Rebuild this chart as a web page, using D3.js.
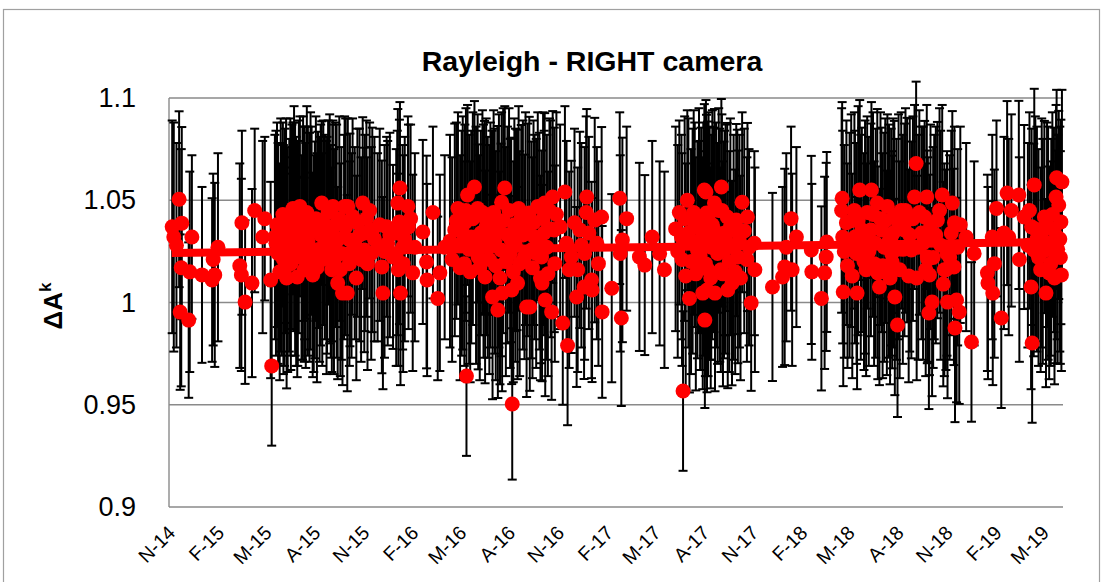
<!DOCTYPE html>
<html>
<head>
<meta charset="utf-8">
<script src="https://cdn.jsdelivr.net/npm/d3@7"></script>
<style>
  html, body { margin: 0; padding: 0; background: #fff; }
  svg { display: block; }
  text { font-family: "Liberation Sans", Arial, sans-serif; }
</style>
</head>
<body>
<svg id="chart" width="1102" height="582"></svg>
<script>
// Rayleigh calibration coefficient, RIGHT camera: one value per observation with its uncertainty
const obsDates = [
  "2014-11-07","2014-11-10","2014-11-15","2014-11-20","2014-11-22","2014-11-24","2014-11-25","2014-12-08","2014-12-10","2014-12-14",
  "2015-01-02","2015-01-21","2015-01-23","2015-01-26","2015-02-01","2015-03-14","2015-03-17","2015-03-18","2015-03-24","2015-04-06",
  "2015-04-11","2015-04-26","2015-04-30","2015-05-11","2015-05-13","2015-05-19","2015-05-25","2015-06-03","2015-06-06","2015-06-07",
  "2015-06-12","2015-06-15","2015-06-20","2015-06-22","2015-06-26","2015-06-30","2015-07-01","2015-07-05","2015-07-08","2015-07-13",
  "2015-07-14","2015-07-20","2015-07-27","2015-07-29","2015-08-02","2015-08-08","2015-08-11","2015-08-15","2015-08-16","2015-08-21",
  "2015-08-27","2015-09-03","2015-09-04","2015-09-05","2015-09-10","2015-09-14","2015-09-21","2015-09-23","2015-09-26","2015-09-27",
  "2015-10-02","2015-10-03","2015-10-06","2015-10-07","2015-10-16","2015-10-21","2015-10-31","2015-11-03","2015-11-04","2015-11-09",
  "2015-11-13","2015-11-18","2015-11-28","2015-12-06","2015-12-08","2015-12-15","2015-12-17","2015-12-27","2016-01-04","2016-01-05",
  "2016-01-06","2016-01-08","2016-01-09","2016-01-10","2016-01-14","2016-01-15","2016-01-24","2016-01-25","2016-02-02","2016-02-06",
  "2016-02-21","2016-02-28","2016-02-29","2016-03-11","2016-03-20","2016-03-24","2016-04-02","2016-04-21","2016-04-27","2016-05-04",
  "2016-05-09","2016-05-10","2016-05-13","2016-05-15","2016-05-18","2016-05-22","2016-05-28","2016-06-03","2016-06-04","2016-06-09",
  "2016-06-16","2016-06-17","2016-06-22","2016-06-30","2016-07-01","2016-07-05","2016-07-10","2016-07-11","2016-07-17","2016-07-18",
  "2016-07-19","2016-07-24","2016-07-29","2016-08-05","2016-08-06","2016-08-07","2016-08-11","2016-08-16","2016-08-17","2016-08-24",
  "2016-08-30","2016-09-03","2016-09-05","2016-09-08","2016-09-09","2016-09-12","2016-09-18","2016-09-24","2016-10-01","2016-10-02",
  "2016-10-06","2016-10-07","2016-10-08","2016-10-16","2016-10-20","2016-10-22","2016-10-25","2016-10-26","2016-11-10","2016-11-14",
  "2016-11-17","2016-11-19","2016-11-26","2016-12-02","2016-12-06","2016-12-08","2016-12-12","2016-12-20","2016-12-21","2016-12-24",
  "2016-12-25","2017-01-03","2017-01-04","2017-01-09","2017-01-13","2017-01-22","2017-01-23","2017-02-10","2017-02-25","2017-02-26",
  "2017-02-28","2017-03-02","2017-03-10","2017-04-03","2017-04-13","2017-04-27","2017-05-11","2017-05-20","2017-06-17","2017-06-21",
  "2017-06-22","2017-06-24","2017-07-02","2017-07-06","2017-07-12","2017-07-16","2017-07-21","2017-07-28","2017-07-30","2017-07-31",
  "2017-08-03","2017-08-04","2017-08-06","2017-08-07","2017-08-08","2017-08-09","2017-08-10","2017-08-13","2017-08-16","2017-08-21",
  "2017-08-22","2017-08-23","2017-08-28","2017-09-03","2017-09-04","2017-09-05","2017-09-09","2017-09-10","2017-09-15","2017-09-16",
  "2017-09-24","2017-10-02","2017-10-04","2017-10-05","2017-10-13","2017-10-22","2017-10-23","2017-10-30","2017-11-05","2017-11-06",
  "2017-12-09","2017-12-28","2018-01-01","2018-01-04","2018-01-13","2018-01-15","2018-01-23","2018-02-20","2018-02-21","2018-03-11",
  "2018-03-17","2018-03-20","2018-03-21","2018-04-18","2018-04-19","2018-04-20","2018-04-21","2018-04-27","2018-05-03","2018-05-12",
  "2018-05-13","2018-05-16","2018-05-17","2018-05-22","2018-05-26","2018-05-30","2018-06-05","2018-06-12","2018-06-13","2018-06-18",
  "2018-06-24","2018-06-25","2018-06-28","2018-07-02","2018-07-07","2018-07-12","2018-07-13","2018-07-20","2018-07-21","2018-07-22",
  "2018-07-26","2018-07-27","2018-08-01","2018-08-08","2018-08-14","2018-08-19","2018-08-27","2018-09-02","2018-09-05","2018-09-06",
  "2018-09-15","2018-09-21","2018-09-25","2018-09-26","2018-09-27","2018-09-29","2018-09-30","2018-10-05","2018-10-09","2018-10-15",
  "2018-10-24","2018-10-28","2018-10-31","2018-11-02","2018-11-03","2018-11-10","2018-11-12","2018-11-15","2018-11-16","2018-11-17",
  "2018-11-20","2018-11-22","2018-11-25","2018-12-08","2018-12-18","2018-12-23","2019-01-17","2019-01-18","2019-01-26","2019-01-27",
  "2019-01-30","2019-02-03","2019-02-12","2019-02-17","2019-02-23","2019-02-26","2019-03-03","2019-03-17","2019-03-18","2019-03-27",
  "2019-04-09","2019-04-10","2019-04-11","2019-04-14","2019-04-15","2019-04-20","2019-04-27","2019-05-04","2019-05-07","2019-05-13",
  "2019-05-16","2019-05-17","2019-05-22","2019-05-25","2019-05-26","2019-05-27","2019-05-28","2019-05-31","2019-06-04","2019-06-05",
  "2019-06-06",
  // observations lying inside the dense seasonal clusters
  "2015-05-21","2015-05-23","2015-05-28","2015-05-30","2015-06-01","2015-06-04","2015-06-09","2015-06-10","2015-06-17","2015-06-18",
  "2015-06-24","2015-06-28","2015-07-03","2015-07-10","2015-07-11","2015-07-16","2015-07-18","2015-07-23","2015-07-25","2015-07-31",
  "2015-08-04","2015-08-06","2015-08-13","2015-08-18","2015-08-24","2015-08-25","2015-08-30","2015-09-01","2015-09-07","2015-09-12",
  "2015-09-17","2015-09-19","2015-09-29","2015-10-10","2015-10-12","2015-10-19","2015-10-25","2015-10-28","2015-11-07","2015-11-16",
  "2015-11-22","2015-12-02","2015-12-11","2015-12-21","2016-01-02","2016-01-18","2016-01-29","2016-04-12","2016-04-16","2016-04-24",
  "2016-05-01","2016-05-06","2016-05-12","2016-05-20","2016-05-25","2016-05-31","2016-06-07","2016-06-12","2016-06-14","2016-06-19",
  "2016-06-25","2016-06-27","2016-07-03","2016-07-07","2016-07-13","2016-07-15","2016-07-21","2016-07-26","2016-08-01","2016-08-03",
  "2016-08-09","2016-08-13","2016-08-19","2016-08-21","2016-08-27","2016-09-01","2016-09-14","2016-09-16","2016-09-21","2016-09-27",
  "2016-09-29","2016-10-04","2016-10-11","2016-10-13","2016-10-18","2016-10-29","2016-11-05","2016-11-22","2016-12-15","2016-12-29",
  "2017-01-16","2017-06-10","2017-06-14","2017-06-27","2017-06-29","2017-07-04","2017-07-09","2017-07-14","2017-07-18","2017-07-24",
  "2017-07-26","2017-08-01","2017-08-05","2017-08-11","2017-08-15","2017-08-18","2017-08-25","2017-08-30","2017-09-01","2017-09-07",
  "2017-09-12","2017-09-19","2017-09-21","2017-09-27","2017-09-30","2017-10-08","2017-10-10","2017-10-17","2017-10-26","2018-04-23",
  "2018-04-29","2018-05-06","2018-05-08","2018-05-19","2018-05-24","2018-06-01","2018-06-03","2018-06-08","2018-06-16","2018-06-21",
  "2018-06-30","2018-07-04","2018-07-09","2018-07-16","2018-07-18","2018-07-24","2018-07-30","2018-08-03","2018-08-05","2018-08-11",
  "2018-08-16","2018-08-22","2018-08-24","2018-08-30","2018-09-09","2018-09-11","2018-09-18","2018-09-23","2018-10-02","2018-10-07",
  "2018-10-12","2018-10-19","2018-10-21","2018-10-26","2018-11-07","2018-11-27","2019-04-03","2019-04-06","2019-04-17","2019-04-23",
  "2019-04-29","2019-05-01","2019-05-09","2019-05-11","2019-05-19","2019-05-23","2019-05-29","2019-06-02","2019-06-03"
];
const deltaA = [
  1.037,1.032,1.028,1.0505,0.9953,1.017,1.0388,0.9914,1.015,1.032,
  1.0135,1.011,1.021,1.0135,1.027,1.018,1.0135,1.039,1.0002,1.0095,
  1.045,1.032,1.041,1.011,0.969,1.032,1.024,1.043,1.016,1.035,
  1.021,1.028,1.037,1.046,1.031,1.0125,1.024,1.047,1.022,1.016,
  1.034,1.030,1.040,1.0135,1.0257,1.0355,1.026,1.0486,1.021,1.032,
  1.044,1.016,1.034,1.047,1.038,1.0095,1.024,1.0046,1.032,1.047,
  1.0046,1.047,1.019,1.0306,1.029,1.039,1.0486,1.0257,1.034,1.019,
  1.045,1.0355,1.027,1.0174,1.0046,1.037,1.029,1.0223,1.034,1.0486,
  1.016,1.0394,1.056,1.0046,1.027,1.019,1.047,1.037,1.0145,1.027,
  1.0345,1.0198,1.011,1.044,1.002,1.0145,1.027,1.0355,1.046,1.029,
  1.019,1.039,0.964,1.0526,1.026,1.032,1.0565,1.046,1.0223,1.034,
  1.0418,1.0125,1.027,1.039,1.0027,1.030,1.0403,0.9963,1.0257,1.049,
  1.0046,1.056,1.033,1.0306,1.0061,0.9504,1.038,1.0355,1.0095,1.0418,
  1.0223,0.9978,1.0355,1.0438,0.9978,1.0257,1.032,1.047,1.0223,1.0095,
  1.034,1.0486,1.0012,1.045,0.9954,1.0516,1.0355,1.019,0.990,1.054,
  1.029,0.979,1.0223,1.039,1.0027,1.016,1.0355,1.0076,1.024,1.044,
  1.0516,1.011,1.0061,1.0403,1.029,1.0418,0.9954,1.007,1.051,1.024,
  0.9924,1.0306,1.041,1.0223,1.0183,1.032,1.024,1.016,1.044,1.032,
  1.021,0.9567,1.050,1.002,1.030,1.038,1.0257,1.0355,1.019,1.0046,
  1.055,0.9914,1.054,1.0438,1.0061,1.0355,1.016,1.029,1.027,1.0355,
  1.0486,1.0046,1.024,1.016,1.0565,1.045,1.0257,1.034,1.0418,1.0061,
  1.0095,1.0403,1.0345,1.0223,1.049,1.021,1.0418,0.9998,1.029,1.016,
  1.0076,1.0125,1.0174,1.027,1.041,1.016,1.032,1.0257,1.015,1.002,
  1.0145,1.0223,1.0296,1.045,1.051,1.032,1.0051,1.039,1.028,1.045,
  1.032,1.024,1.0046,1.055,1.0355,1.020,1.044,1.0355,1.055,1.019,
  1.0486,1.0145,1.0076,1.0355,1.027,1.0145,1.047,1.032,1.024,1.0198,
  1.0418,1.0027,0.989,1.045,1.0355,1.0403,1.0257,1.0516,1.068,1.012,
  1.034,1.0418,1.0516,1.0223,1.021,0.9949,1.0135,1.0002,1.032,1.0403,
  1.0526,1.016,1.016,1.024,1.0002,1.034,1.0486,1.0174,1.039,0.9875,
  1.0012,1.027,0.9954,1.032,0.9807,1.024,1.0145,1.0095,1.032,1.0046,
  1.019,1.046,0.9924,1.034,1.0535,1.032,1.045,1.0526,1.021,1.0418,
  1.0076,1.037,0.9802,1.0257,1.0575,1.031,1.016,1.0418,1.0046,1.0145,
  1.019,1.027,1.0355,1.0223,1.0516,1.061,1.032,1.0477,1.0394,1.0135,
  1.059,
  1.029,1.038,1.015,1.033,1.026,1.021,1.040,1.012,1.032,1.019,
  1.041,1.025,1.037,1.029,1.041,1.023,1.044,1.027,1.035,1.019,
  1.041,1.017,1.033,1.039,1.022,1.028,1.036,1.025,1.020,1.030,
  1.041,1.016,1.037,1.023,1.042,1.012,1.033,1.021,1.041,1.024,
  1.031,1.038,1.025,1.033,1.022,1.031,1.041,1.030,1.021,1.040,
  1.017,1.034,1.045,1.015,1.041,1.028,1.017,1.044,1.030,1.037,
  1.021,1.033,1.044,1.018,1.035,1.012,1.040,1.020,1.045,1.024,
  1.015,1.028,1.046,1.019,1.033,1.041,1.017,1.039,1.024,1.030,
  1.012,1.041,1.027,1.014,1.036,1.043,1.037,1.016,1.028,1.034,
  1.019,1.036,1.025,1.041,1.013,1.034,1.020,1.044,1.014,1.040,
  1.023,1.031,1.019,1.043,1.012,1.038,1.033,1.045,1.028,1.014,
  1.031,1.020,1.037,1.027,1.015,1.030,1.012,1.035,1.027,1.025,
  1.018,1.040,1.013,1.040,1.027,1.032,1.016,1.025,1.043,1.029,
  1.041,1.018,1.040,1.030,1.012,1.034,1.026,1.037,1.016,1.026,
  1.045,1.013,1.033,1.041,1.027,1.044,1.029,1.016,1.037,1.022,
  1.033,1.045,1.028,1.009,1.022,1.038,1.028,1.045,1.036,1.022,
  1.034,1.025,1.038,1.029,1.043,1.012,1.026,1.031,1.022
];
const deltaErr = [
  0.052,0.056,0.050,0.043,0.038,0.058,0.047,0.038,0.049,0.040,
  0.043,0.040,0.042,0.045,0.046,0.050,0.047,0.045,0.040,0.046,
  0.040,0.047,0.040,0.048,0.039,0.050,0.054,0.045,0.047,0.050,
  0.055,0.052,0.050,0.042,0.057,0.049,0.055,0.044,0.050,0.045,
  0.052,0.056,0.046,0.050,0.053,0.048,0.055,0.040,0.052,0.050,
  0.045,0.050,0.053,0.042,0.050,0.047,0.052,0.045,0.050,0.044,
  0.048,0.043,0.050,0.052,0.047,0.046,0.042,0.050,0.048,0.052,
  0.043,0.050,0.046,0.052,0.047,0.044,0.050,0.045,0.050,0.046,
  0.047,0.050,0.042,0.045,0.050,0.053,0.044,0.050,0.048,0.046,
  0.045,0.052,0.047,0.042,0.040,0.048,0.045,0.052,0.047,0.055,
  0.050,0.048,0.039,0.044,0.056,0.052,0.042,0.046,0.055,0.050,
  0.047,0.052,0.054,0.045,0.050,0.055,0.046,0.043,0.052,0.044,
  0.048,0.040,0.053,0.050,0.046,0.037,0.052,0.049,0.047,0.045,
  0.050,0.044,0.052,0.047,0.041,0.053,0.050,0.046,0.052,0.048,
  0.050,0.044,0.047,0.045,0.043,0.042,0.050,0.048,0.040,0.042,
  0.050,0.039,0.047,0.046,0.044,0.050,0.048,0.045,0.052,0.047,
  0.043,0.048,0.045,0.050,0.047,0.044,0.042,0.046,0.042,0.048,
  0.043,0.050,0.045,0.046,0.044,0.047,0.045,0.048,0.045,0.050,
  0.052,0.039,0.044,0.046,0.055,0.050,0.053,0.050,0.052,0.047,
  0.042,0.043,0.045,0.048,0.050,0.053,0.052,0.057,0.055,0.050,
  0.046,0.048,0.054,0.050,0.043,0.047,0.053,0.050,0.046,0.048,
  0.050,0.047,0.050,0.052,0.044,0.050,0.046,0.043,0.045,0.050,
  0.046,0.044,0.048,0.046,0.045,0.047,0.044,0.046,0.043,0.045,
  0.047,0.046,0.044,0.050,0.047,0.052,0.046,0.050,0.055,0.048,
  0.052,0.054,0.047,0.044,0.050,0.053,0.047,0.052,0.043,0.050,
  0.046,0.052,0.048,0.050,0.056,0.050,0.045,0.053,0.050,0.052,
  0.047,0.048,0.045,0.048,0.052,0.050,0.053,0.045,0.040,0.050,
  0.052,0.047,0.045,0.052,0.050,0.047,0.049,0.046,0.050,0.048,
  0.044,0.052,0.049,0.050,0.047,0.050,0.045,0.048,0.047,0.046,
  0.050,0.048,0.045,0.046,0.039,0.045,0.048,0.047,0.050,0.045,
  0.046,0.043,0.044,0.047,0.045,0.048,0.047,0.046,0.050,0.045,
  0.050,0.048,0.039,0.052,0.047,0.055,0.050,0.047,0.046,0.052,
  0.050,0.053,0.050,0.052,0.045,0.043,0.050,0.046,0.050,0.047,
  0.045,
  0.055,0.050,0.053,0.057,0.052,0.056,0.050,0.054,0.058,0.052,
  0.055,0.056,0.052,0.057,0.050,0.055,0.052,0.056,0.058,0.053,
  0.050,0.056,0.054,0.050,0.057,0.053,0.056,0.052,0.055,0.057,
  0.050,0.052,0.053,0.050,0.048,0.050,0.052,0.050,0.048,0.052,
  0.050,0.047,0.052,0.050,0.053,0.050,0.046,0.052,0.050,0.048,
  0.055,0.057,0.050,0.054,0.052,0.058,0.055,0.050,0.057,0.053,
  0.056,0.055,0.050,0.056,0.057,0.052,0.055,0.056,0.050,0.056,
  0.054,0.057,0.050,0.055,0.056,0.052,0.054,0.050,0.056,0.053,
  0.050,0.052,0.055,0.050,0.053,0.050,0.050,0.048,0.050,0.047,
  0.050,0.050,0.052,0.050,0.055,0.056,0.055,0.050,0.057,0.055,
  0.056,0.057,0.055,0.050,0.054,0.056,0.055,0.050,0.057,0.055,
  0.056,0.054,0.053,0.055,0.050,0.052,0.050,0.050,0.048,0.052,
  0.050,0.052,0.050,0.056,0.055,0.057,0.052,0.056,0.050,0.056,
  0.052,0.055,0.050,0.057,0.052,0.056,0.054,0.055,0.053,0.056,
  0.050,0.052,0.057,0.050,0.055,0.050,0.057,0.052,0.050,0.054,
  0.053,0.050,0.056,0.050,0.050,0.048,0.050,0.048,0.055,0.053,
  0.056,0.055,0.050,0.057,0.050,0.052,0.056,0.055,0.052
];

// Linear trend of the coefficient over the whole record
const trendDates = ["2014-11-06", "2019-06-06"];
const trendValues = [1.0242, 1.0296];

// Axis ticks
const yTicks = [0.9, 0.95, 1, 1.05, 1.1];
const yTickLabels = ["0.9", "0.95", "1", "1.05", "1.1"];
const xTickDates = [
  "2014-11-01","2015-02-01","2015-05-01","2015-08-01","2015-11-01","2016-02-01","2016-05-01",
  "2016-08-01","2016-11-01","2017-02-01","2017-05-01","2017-08-01","2017-11-01","2018-02-01",
  "2018-05-01","2018-08-01","2018-11-01","2019-02-01","2019-05-01"
];
const xTickLabels = [
  "N-14","F-15","M-15","A-15","N-15","F-16","M-16","A-16","N-16","F-17","M-17",
  "A-17","N-17","F-18","M-18","A-18","N-18","F-19","M-19"
];
const xDomain = ["2014-11-01", "2019-06-08"];

const parse = d3.timeParse("%Y-%m-%d");
const points = obsDates.map((d, i) => ({ date: parse(d), v: deltaA[i], e: deltaErr[i] }));

const svg = d3.select("#chart");
const plot = { left: 169, right: 1063, top: 98, bottom: 507 };

// Chart area frame
svg.append("rect")
  .attr("x", 3.5).attr("y", 9.5)
  .attr("width", 1096).attr("height", 620)
  .attr("fill", "none").attr("stroke", "#a0a0a0").attr("stroke-width", 1.2);

const x = d3.scaleTime().domain(xDomain.map(parse)).range([plot.left, plot.right]);
const y = d3.scaleLinear().domain([0.9, 1.1]).range([plot.bottom, plot.top]);

// Horizontal gridlines
svg.append("g").attr("class", "grid")
  .selectAll("line").data(yTicks).join("line")
  .attr("x1", plot.left).attr("x2", plot.right)
  .attr("y1", d => y(d)).attr("y2", d => y(d))
  .attr("stroke", "#8a8a8a").attr("stroke-width", 1.4);

// Value axis line and labels
svg.append("line")
  .attr("x1", plot.left).attr("x2", plot.left)
  .attr("y1", plot.top).attr("y2", plot.bottom)
  .attr("stroke", "#8a8a8a").attr("stroke-width", 1.4);

const yAxis = d3.axisLeft(y).tickValues(yTicks).tickSize(0).tickPadding(33)
  .tickFormat((d, i) => yTickLabels[i]);
const gy = svg.append("g").attr("transform", `translate(${plot.left},0)`).call(yAxis);
gy.select(".domain").remove();
gy.selectAll("text").attr("font-size", 27).attr("fill", "#000")
  .attr("font-family", "'Liberation Sans', Arial, sans-serif");

// Date axis labels, rotated
const xAxis = d3.axisBottom(x).tickValues(xTickDates.map(parse)).tickSize(0)
  .tickFormat((d, i) => xTickLabels[i]);
const gx = svg.append("g").attr("transform", `translate(0,${plot.bottom})`).call(xAxis);
gx.select(".domain").remove();
gx.selectAll("text")
  .attr("font-size", 19.5).attr("fill", "#000")
  .attr("font-family", "'Liberation Sans', Arial, sans-serif")
  .attr("text-anchor", "end")
  .attr("dy", null).attr("y", null)
  .attr("transform", "translate(7,27) rotate(-45)");

// Error bars
const cap = 4.5;
const bars = svg.append("g").attr("stroke", "#000").attr("stroke-width", 2)
  .selectAll("g").data(points).join("g");
bars.append("line")
  .attr("x1", d => x(d.date)).attr("x2", d => x(d.date))
  .attr("y1", d => y(d.v - d.e)).attr("y2", d => y(d.v + d.e));
bars.append("line")
  .attr("x1", d => x(d.date) - cap).attr("x2", d => x(d.date) + cap)
  .attr("y1", d => y(d.v + d.e)).attr("y2", d => y(d.v + d.e));
bars.append("line")
  .attr("x1", d => x(d.date) - cap).attr("x2", d => x(d.date) + cap)
  .attr("y1", d => y(d.v - d.e)).attr("y2", d => y(d.v - d.e));

// Trend line
const trend = trendDates.map((d, i) => ({ date: parse(d), v: trendValues[i] }));
svg.append("path").datum(trend)
  .attr("fill", "none").attr("stroke", "#ff0000").attr("stroke-width", 8)
  .attr("d", d3.line().x(d => x(d.date)).y(d => y(d.v)));

// Markers
svg.append("g").selectAll("circle").data(points).join("circle")
  .attr("cx", d => x(d.date)).attr("cy", d => y(d.v)).attr("r", 7.5)
  .attr("fill", "#ff0000");

// Title
svg.append("text")
  .attr("x", 592).attr("y", 71).attr("text-anchor", "middle")
  .attr("font-size", 28.5).attr("font-weight", "bold").attr("fill", "#000")
  .text("Rayleigh - RIGHT camera");

// Value axis title: ΔA with superscript k
const yt = svg.append("text")
  .attr("transform", "translate(62,306) rotate(-90)")
  .attr("text-anchor", "middle")
  .attr("font-size", 26).attr("font-weight", "bold").attr("fill", "#000");
yt.append("tspan").text("ΔA");
yt.append("tspan").attr("font-size", 17).attr("dy", -11).text("k");
</script>
</body>
</html>
